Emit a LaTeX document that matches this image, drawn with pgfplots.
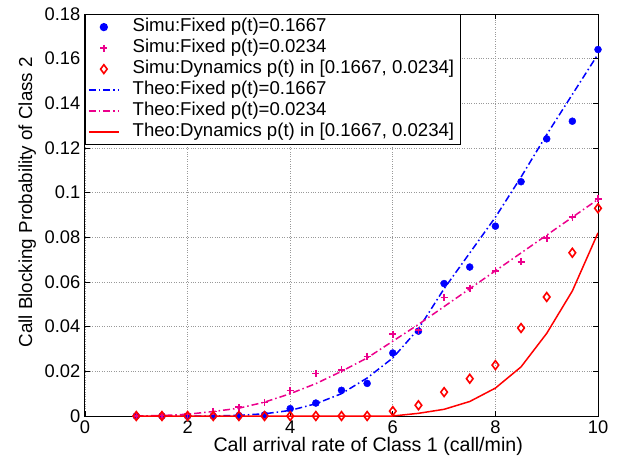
\documentclass[border=0pt]{standalone}
\usepackage{pgfplots}
\pgfplotsset{compat=1.18}
\usepackage{fontspec}
\setmainfont{Liberation Sans}
\begin{document}
\begin{tikzpicture}[font=\fontsize{18.2}{22}\selectfont]
\begin{axis}[
  scale only axis, width=513pt, height=402pt,
  xmin=0, xmax=10, ymin=0, ymax=0.18,
  xtick={0,2,4,6,8,10}, xticklabels={0,2,4,6,8,10},
  ytick={0,0.02,0.04,0.06,0.08,0.1,0.12,0.14,0.16,0.18},
  yticklabels={0,0.02,0.04,0.06,0.08,0.1,0.12,0.14,0.16,0.18},
  tick label style={font=\fontsize{18.3}{22}\selectfont},
  xticklabel style={inner sep=0pt, yshift=-4.5pt},
  yticklabel style={inner sep=0pt, xshift=-4.5pt},
  tick align=inside, major tick length=5pt,
  tick style={black, line width=0.8pt},
  axis line style={line width=1pt},
  grid=major, grid style={dotted, gray!80, line width=0.7pt},
  xlabel={Call arrival rate of Class 1 (call/min)},
  ylabel={Call Blocking Probability of Class 2},
  xlabel style={font=\fontsize{19.6}{24}\selectfont, at={(axis description cs:0.552,-0.088)}, anchor=base, inner sep=0pt},
  ylabel style={font=\fontsize{18.8}{22}\selectfont, at={(axis description cs:-0.103,0.532)}, anchor=base, inner sep=0pt},
  legend cell align=left,
  legend image code/.code={\draw[mark repeat=2,mark phase=2] plot coordinates {(0pt,0pt) (15pt,0pt) (30pt,0pt)}; \path (39pt,0pt);},
  legend style={at={(0,1)}, anchor=north west, draw=black, line width=1.2pt,
    font=\fontsize{18.6}{22}\selectfont, row sep=0pt, inner xsep=2.5pt,
    nodes={inner ysep=2.1pt, inner xsep=4pt, text height=12.8pt, text depth=4pt}},
]
\addplot[only marks, blue, mark=*, mark size=3.5pt] coordinates {
(1,0) (1.5,0) (2,0) (2.5,0) (3,0.0002) (3.5,0.0005) (4,0.0033) (4.5,0.0058) (5,0.0115) (5.5,0.0146) (6,0.0282) (6.5,0.038) (7,0.0593) (7.5,0.0667) (8,0.085) (8.5,0.1049) (9,0.1241) (9.5,0.132) (10,0.1641)};
\addplot[only marks, magenta, mark=+, mark size=3.5pt, line width=1.6pt] coordinates {
(1,0) (1.5,0.0002) (2,0.0008) (2.5,0.0021) (3,0.0039) (3.5,0.006) (4,0.0115) (4.5,0.0191) (5,0.0207) (5.5,0.0267) (6,0.0366) (6.5,0.0385) (7,0.0531) (7.5,0.0573) (8,0.065) (8.5,0.069) (9,0.0796) (9.5,0.089) (10,0.0972)};
\addplot[only marks, red, mark=diamond, mark size=4.4pt, line width=1.6pt] coordinates {
(1,0) (1.5,0) (2,0) (2.5,0) (3,0) (3.5,0) (4,0) (4.5,0) (5,0) (5.5,0) (6,0.0022) (6.5,0.0048) (7,0.0107) (7.5,0.0167) (8,0.0228) (8.5,0.0394) (9,0.0533) (9.5,0.0731) (10,0.093)};
\addplot[blue, line width=1.5pt, dash pattern=on 7pt off 3pt on 1.5pt off 3pt] coordinates {
(1,0) (1.5,0) (2,0) (2.5,0) (3,0.0003) (3.5,0.001) (4,0.0025) (4.5,0.0055) (5,0.010) (5.5,0.017) (6,0.026) (6.5,0.039) (7,0.057) (7.5,0.073) (8,0.089) (8.5,0.107) (9,0.126) (9.5,0.144) (10,0.162)};
\addplot[magenta, line width=1.5pt, dash pattern=on 7pt off 3pt on 1.5pt off 3pt] coordinates {
(1,0) (1.5,0.0002) (2,0.0008) (2.5,0.002) (3,0.0035) (3.5,0.0062) (4,0.010) (4.5,0.0145) (5,0.020) (5.5,0.026) (6,0.0335) (6.5,0.041) (7,0.049) (7.5,0.057) (8,0.065) (8.5,0.073) (9,0.081) (9.5,0.089) (10,0.097)};
\addplot[red, line width=1.5pt] coordinates {
(1,0) (1.5,0) (2,0) (2.5,0) (3,0) (3.5,0) (4,0) (4.5,0) (5,0) (5.5,0) (6,0) (6.5,0.0012) (7,0.003) (7.5,0.0065) (8,0.0125) (8.5,0.022) (9,0.037) (9.5,0.056) (10,0.082)};
\legend{Simu:Fixed p(t)=0.1667, Simu:Fixed p(t)=0.0234, {Simu:Dynamics p(t) in [0.1667, 0.0234]}, Theo:Fixed p(t)=0.1667, Theo:Fixed p(t)=0.0234, {Theo:Dynamics p(t) in [0.1667, 0.0234]}}
\coordinate (O) at (rel axis cs:0,0);
\end{axis}
\pgfresetboundingbox
\path (O) ++(-85pt,-40pt) rectangle ++(623pt,456pt);
\end{tikzpicture}
\end{document}
